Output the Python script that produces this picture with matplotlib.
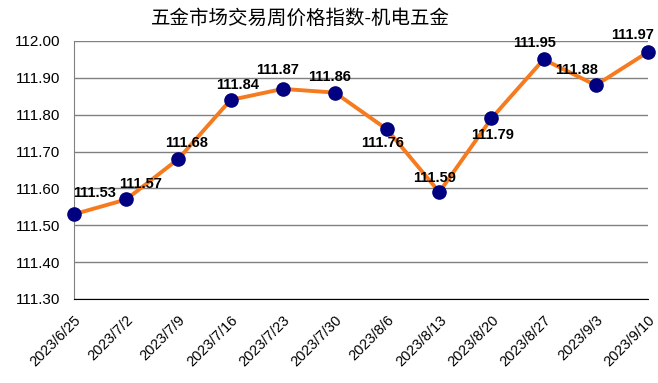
import matplotlib.pyplot as plt
import numpy as np

plt.rcParams['font.family'] = ['Liberation Sans', 'Noto Sans CJK SC', 'DejaVu Sans']

dates = ['2023/6/25', '2023/7/2', '2023/7/9', '2023/7/16', '2023/7/23', '2023/7/30',
         '2023/8/6', '2023/8/13', '2023/8/20', '2023/8/27', '2023/9/3', '2023/9/10']
values = [111.53, 111.57, 111.68, 111.84, 111.87, 111.86,
          111.76, 111.59, 111.79, 111.95, 111.88, 111.97]
# label offsets in points (dx, dy)
offsets = [(14.5, 15), (10, 11.5), (6, 11.5), (5, 11), (-3.5, 13.5), (-3.5, 11),
           (-3, -10), (-3.5, 10), (0.7, -12), (-6.5, 11.5), (-14, 11), (-11, 12)]
yticks = [111.30, 111.40, 111.50, 111.60, 111.70, 111.80, 111.90, 112.00]

fig = plt.figure(figsize=(6.58, 3.83), dpi=100)
ax = fig.add_axes([74 / 658, 1 - 299 / 383, (648 - 74) / 658, (299 - 41) / 383])

x = np.arange(len(dates))
ax.plot(x, values, color='#F67A1E', linewidth=2.8, marker='o', markersize=9.5,
        markerfacecolor='#000080', markeredgecolor='#000080', zorder=3, clip_on=False)

for xi, v, (dx, dy) in zip(x, values, offsets):
    ax.annotate(f'{v:.2f}', (xi, v), xytext=(dx, dy), textcoords='offset points',
                ha='center', va='center', fontsize=10.5, fontweight='bold',
                color='black', zorder=4)

ax.set_xlim(0, len(dates) - 1)
ax.set_ylim(111.30, 112.00)
ax.set_yticks(yticks)
ax.set_yticklabels([f'{t:.2f}' for t in yticks], fontsize=11)
ax.set_xticks(x)
ax.set_xticklabels(dates, rotation=45, ha='right', rotation_mode='anchor', fontsize=10.5)
ax.tick_params(axis='both', length=0)
ax.tick_params(axis='y', pad=10)
ax.tick_params(axis='x', pad=10)

ax.grid(axis='y', color='#808080', linewidth=1)
ax.set_axisbelow(True)
for s in ['top', 'right']:
    ax.spines[s].set_visible(False)
ax.spines['left'].set_color('#808080')
ax.spines['bottom'].set_color('black')

fig.suptitle('五金市场交易周价格指数-机电五金', x=300 / 658, y=1 - 18 / 383,
             fontsize=14, va='center')

plt.savefig('out.png', dpi=100)
